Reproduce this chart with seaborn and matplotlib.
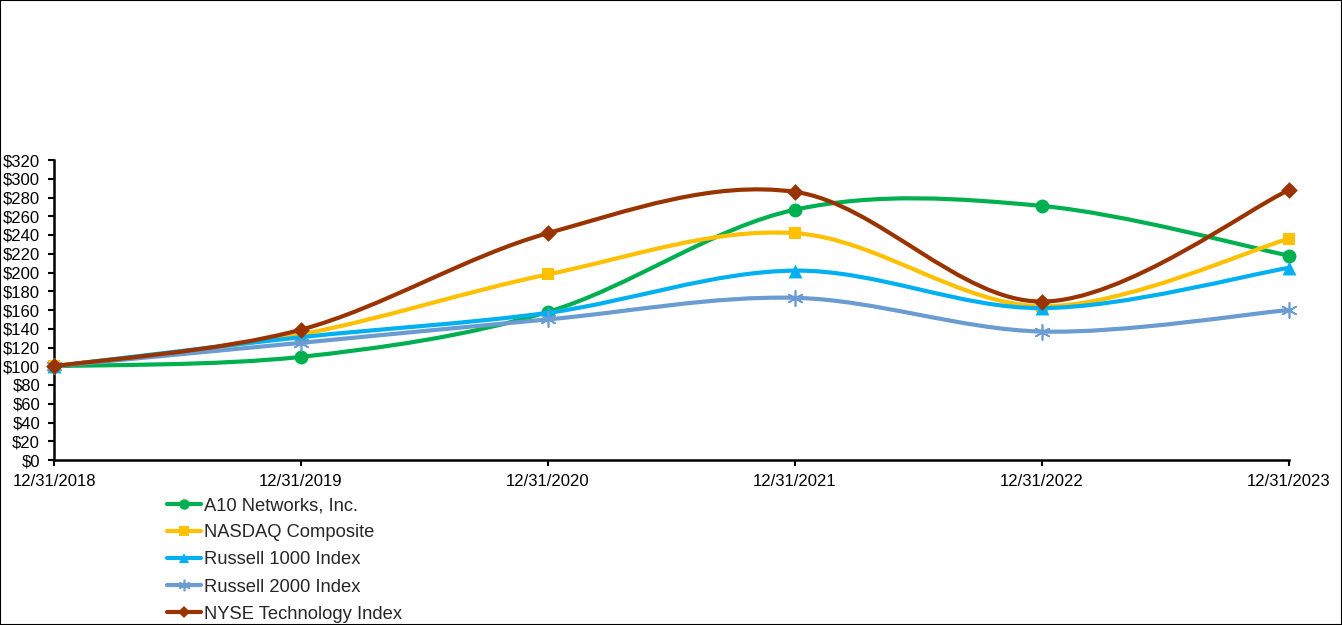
import numpy as np
import pandas as pd
import seaborn as sns
import matplotlib.pyplot as plt
from matplotlib.path import Path
from matplotlib.patches import PathPatch, Rectangle
from matplotlib.lines import Line2D

# data
dates = ["12/31/2018", "12/31/2019", "12/31/2020", "12/31/2021", "12/31/2022", "12/31/2023"]
a10 = [100, 110, 158, 267, 271, 218]
nasdaq = [100, 134, 198, 242, 164, 236]
russell1000 = [100, 131, 157, 202, 162, 205]
russell2000 = [100, 125, 150, 173, 137, 160]
nyse_tech = [100, 139, 242, 286, 169, 288]

names = ["A10 Networks, Inc.", "NASDAQ Composite", "Russell 1000 Index",
         "Russell 2000 Index", "NYSE Technology Index"]
series = [a10, nasdaq, russell1000, russell2000, nyse_tech]
colors = ["#00B050", "#FFC000", "#00B0F0", "#6A9BD1", "#993300"]
markers = ["o", "s", "^", (6, 2, 0), "D"]
msizes = [10, 9, 10, 11, 8.5]

sns.set_style("white")
plt.rcParams['font.family'] = ['Liberation Sans', 'DejaVu Sans']

fig = plt.figure(figsize=(13.42, 6.25), dpi=100)
ax = fig.add_axes([54/1342, 1-460/625, (1289-54)/1342, 300/625])


def smooth_path(xs, ys):
    # excel style smoothed line: bezier segments through the points
    pts = np.column_stack([xs, ys]).astype(float)
    n = len(pts)
    verts = [pts[0]]
    codes = [Path.MOVETO]
    for i in range(n - 1):
        p0 = pts[max(i - 1, 0)]
        p1 = pts[i]
        p2 = pts[i + 1]
        p3 = pts[min(i + 2, n - 1)]
        c1 = p1 + (p2 - p0) / 6
        c2 = p2 - (p3 - p1) / 6
        verts += [c1, c2, p2]
        codes += [Path.CURVE4] * 3
    return Path(verts, codes)


x = np.arange(len(dates))
handles = []
for i, (name, vals, c, m, ms) in enumerate(zip(names, series, colors, markers, msizes)):
    ax.add_patch(PathPatch(smooth_path(x, vals), facecolor="none", edgecolor=c,
                           lw=3, zorder=2 + i, capstyle="round"))
    df = pd.DataFrame({"x": x, "y": vals})
    if m == (6, 2, 0):
        sns.scatterplot(data=df, x="x", y="y", marker=m, s=ms**2, color=c,
                        linewidth=1.2, ax=ax, zorder=2.5 + i, clip_on=False)
    else:
        sns.scatterplot(data=df, x="x", y="y", marker=m, s=ms**2, color=c,
                        edgecolor=c, linewidth=0, ax=ax, zorder=2.5 + i, clip_on=False)
    handles.append(Line2D([], [], color=c, lw=3, marker=m, markersize=ms * 0.75,
                          markeredgewidth=1.2 if m == (6, 2, 0) else 0))

ax.set_xlim(0, len(dates) - 1)
ax.set_ylim(0, 320)
ax.set_xticks(x)
ax.set_xticklabels(dates)
ax.set_yticks(np.arange(0, 321, 20))
ax.set_yticklabels([f"${v}" for v in range(0, 321, 20)])
ax.set_xlabel("")
ax.set_ylabel("")
ax.tick_params(axis="both", labelsize=12, colors="black", length=4, width=1.5,
               direction="out", left=True, bottom=True)
ax.tick_params(axis="y", pad=6)
ax.tick_params(axis="x", pad=6)
for s in ["top", "right"]:
    ax.spines[s].set_visible(False)
for s in ["left", "bottom"]:
    ax.spines[s].set_color("black")
    ax.spines[s].set_linewidth(1.8)

fig.legend(handles, names, loc="upper left", bbox_to_anchor=(160/1342, 1-490/625),
           frameon=False, fontsize=13.2, handlelength=1.85, handletextpad=0.15,
           labelspacing=0.55, borderaxespad=0)

fig.patches.append(Rectangle((0, 0), 1, 1, transform=fig.transFigure, fill=False,
                             edgecolor="black", lw=1.5))

fig.savefig("out.png", dpi=100)
